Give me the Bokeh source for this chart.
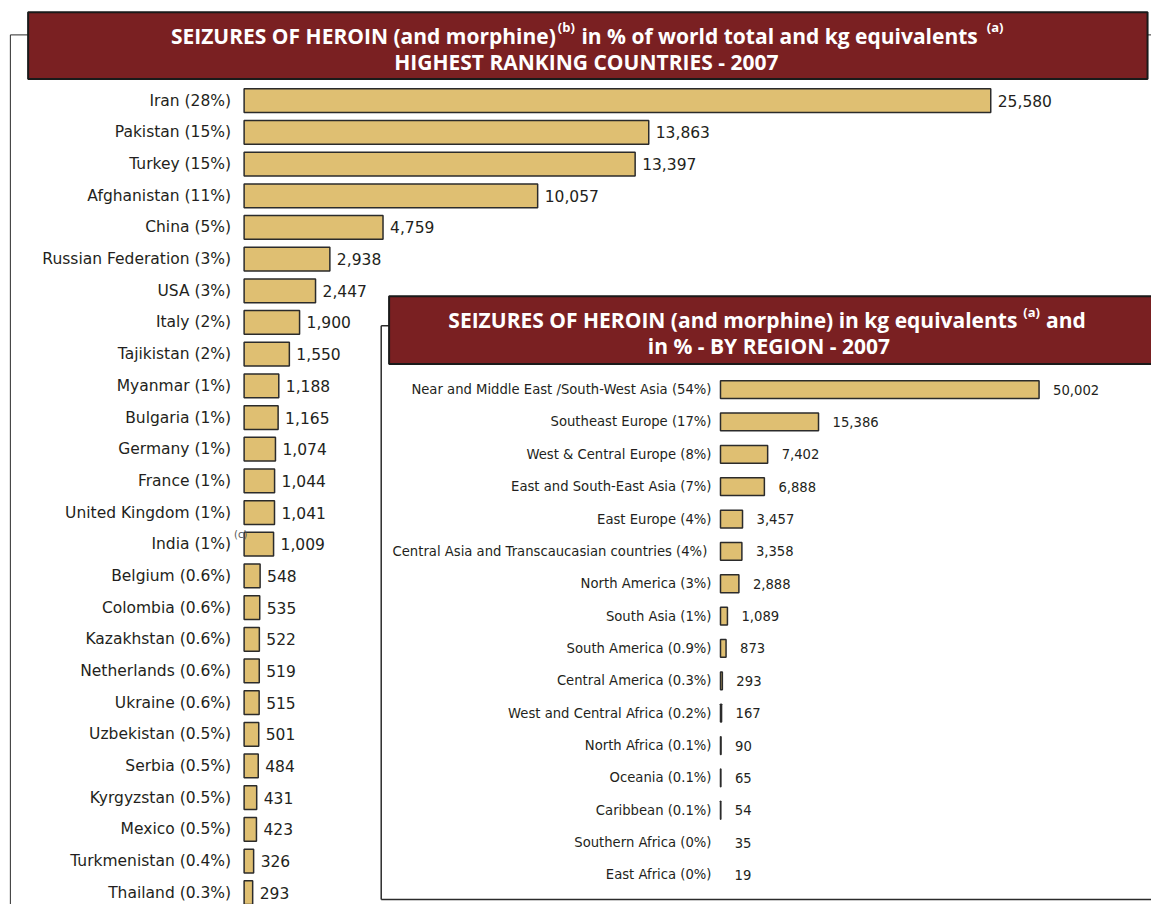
from bokeh.plotting import figure
from bokeh.models import Range1d, ColumnDataSource
from bokeh.core.properties import value
from bokeh.embed import file_html
from bokeh.resources import INLINE

# ---------------- data ----------------
countries = ["Iran", "Pakistan", "Turkey", "Afghanistan", "China", "Russian Federation",
             "USA", "Italy", "Tajikistan", "Myanmar", "Bulgaria", "Germany", "France",
             "United Kingdom", "India", "Belgium", "Colombia", "Kazakhstan", "Netherlands",
             "Ukraine", "Uzbekistan", "Serbia", "Kyrgyzstan", "Mexico", "Turkmenistan",
             "Thailand"]
country_share = ["28%", "15%", "15%", "11%", "5%", "3%", "3%", "2%", "2%", "1%", "1%",
                 "1%", "1%", "1%", "1%", "0.6%", "0.6%", "0.6%", "0.6%", "0.6%", "0.5%",
                 "0.5%", "0.5%", "0.5%", "0.4%", "0.3%"]
country_kg = [25580, 13863, 13397, 10057, 4759, 2938, 2447, 1900, 1550, 1188, 1165, 1074,
              1044, 1041, 1009, 548, 535, 522, 519, 515, 501, 484, 431, 423, 326, 293]

regions = ["Near and Middle East /South-West Asia", "Southeast Europe",
           "West & Central Europe", "East and South-East Asia", "East Europe",
           "Central Asia  and Transcaucasian countries", "North America", "South Asia",
           "South America", "Central America", "West and Central Africa", "North Africa",
           "Oceania", "Caribbean", "Southern Africa", "East Africa"]
region_share = ["54%", "17%", "8%", "7%", "4%", "4%", "3%", "1%", "0.9%", "0.3%", "0.2%",
                "0.1%", "0.1%", "0.1%", "0%", "0%"]
region_kg = [50002, 15386, 7402, 6888, 3457, 3358, 2888, 1089, 873, 293, 167, 90, 65, 54,
             35, 19]

# ---------------- styles ----------------
W, H = 1151, 904
REF_W, REF_H = 1167, 920
BAR_FILL = "#DFBF72"
BAR_LINE = "#2b2b2b"
TITLE_BG = "#7A2022"
TXT = "#231F20"
LBL_FONT = value("DejaVu Sans")
TITLE_FONT = value("Open Sans")
T_SIZE = "21px"
SUP_SIZE = "13px"

p = figure(width=W, height=H, output_backend="svg", toolbar_location=None,
           x_range=Range1d(0, REF_W), y_range=Range1d(REF_H, 0),
           min_border=0, outline_line_color=None)
p.axis.visible = False
p.grid.visible = False
p.background_fill_color = "white"
p.border_fill_color = "white"

# layout ranges (reference pixel geometry)
m_x0, m_px = 247, 757 / 25580.0        # main bars: origin, px per kg
m_y0, m_dy = 102, 32.24                # main rows: first row centre, row step
i_x0, i_px = 730, 323 / 50002.0        # inset bars
i_y0, i_dy = 396, 32.93                # inset rows
p.extra_x_ranges = {
    "mx": Range1d(-m_x0 / m_px, (REF_W - m_x0) / m_px),
    "ix": Range1d(-i_x0 / i_px, (REF_W - i_x0) / i_px),
}
p.extra_y_ranges = {
    "my": Range1d((REF_H - m_y0) / m_dy, -m_y0 / m_dy),
    "iy": Range1d((REF_H - i_y0) / i_dy, -i_y0 / i_dy),
}


def title_text(x, y, s, align="left", size=T_SIZE):
    p.text(x=[x], y=[y], text=[s], text_align=align, text_baseline="middle",
           text_color="white", text_font=TITLE_FONT, text_font_style="bold",
           text_font_size=size)


# ---------------- main chart ----------------
p.line([10, 10], [35, REF_H], line_color=BAR_LINE, line_width=1)
p.line([10, 30], [35, 35], line_color=BAR_LINE, line_width=1)
p.line([1160, REF_W], [35, 35], line_color=BAR_LINE, line_width=1)
p.quad(left=[28], right=[1163], top=[12], bottom=[80], fill_color=TITLE_BG,
       line_color="#1a1a1a", line_width=2)

title_text(563, 36, "SEIZURES OF HEROIN (and morphine)", align="right")
title_text(565, 27, "(b)", size=SUP_SIZE)
title_text(589, 36, "in % of world total and kg equivalents")
title_text(1000, 27, "(a)", size=SUP_SIZE)
title_text(594, 63, "HIGHEST RANKING COUNTRIES - 2007", align="center")

msrc = ColumnDataSource(dict(
    row=list(range(len(countries))),
    kg=country_kg,
    label=[f"{c} ({s})" for c, s in zip(countries, country_share)],
    vtxt=[f"{v:,}" for v in country_kg],
))
p.hbar(y="row", left=0, right="kg", height=0.75, source=msrc, fill_color=BAR_FILL,
       line_color=BAR_LINE, line_width=1.5, x_range_name="mx", y_range_name="my")
p.text(x=0, y="row", text="label", source=msrc, x_offset=-13, text_align="right",
       text_baseline="middle", text_color=TXT, text_font=LBL_FONT,
       text_font_size="15.5px", x_range_name="mx", y_range_name="my")
p.text(x="kg", y="row", text="vtxt", source=msrc, x_offset=7, text_align="left",
       text_baseline="middle", text_color=TXT, text_font=LBL_FONT,
       text_font_size="15.5px", x_range_name="mx", y_range_name="my")
# footnote marker next to India
india = countries.index("India")
p.text(x=[0], y=[india], text=["(c)"], x_offset=-10, y_offset=-10, text_align="left",
       text_baseline="middle", text_color="#555555", text_font=LBL_FONT,
       text_font_size="10px", x_range_name="mx", y_range_name="my")

# ---------------- inset chart ----------------
p.quad(left=[386], right=[REF_W + 5], top=[331], bottom=[915], fill_color="white",
       line_color=None)
p.line([386, 386], [331, 915], line_color=BAR_LINE, line_width=1.5)
p.line([386, 396], [331, 331], line_color=BAR_LINE, line_width=1.5)
p.line([386, REF_W], [915, 915], line_color=BAR_LINE, line_width=1.5)
p.quad(left=[394], right=[REF_W + 5], top=[301], bottom=[370], fill_color=TITLE_BG,
       line_color="#1a1a1a", line_width=2)

title_text(1031, 325, "SEIZURES OF HEROIN (and morphine) in kg equivalents", align="right")
title_text(1037, 317, "(a)", size=SUP_SIZE)
title_text(1060, 325, "and")
title_text(779, 352, "in % - BY REGION - 2007", align="center")

isrc = ColumnDataSource(dict(
    row=list(range(len(regions))),
    kg=region_kg,
    label=[f"{r} ({s})" for r, s in zip(regions, region_share)],
    vtxt=[f"{v:,}" for v in region_kg],
))
# bars are only drawn for regions with a non-zero share
vis = [i for i, s in enumerate(region_share) if s != "0%"]
bsrc = ColumnDataSource(dict(row=vis, kg=[region_kg[i] for i in vis]))
p.hbar(y="row", left=0, right="kg", height=0.55, source=bsrc, fill_color=BAR_FILL,
       line_color=BAR_LINE, line_width=1.5, x_range_name="ix", y_range_name="iy")
p.text(x=0, y="row", text="label", source=isrc, x_offset=-9, text_align="right",
       text_baseline="middle", text_color=TXT, text_font=LBL_FONT,
       text_font_size="13.2px", x_range_name="ix", y_range_name="iy")
p.text(x="kg", y="row", text="vtxt", source=isrc, x_offset=14, text_align="left",
       text_baseline="middle", text_color=TXT, text_font=LBL_FONT,
       text_font_size="13.2px", x_range_name="ix", y_range_name="iy")

open("out.html", "w").write(file_html(p, INLINE))
